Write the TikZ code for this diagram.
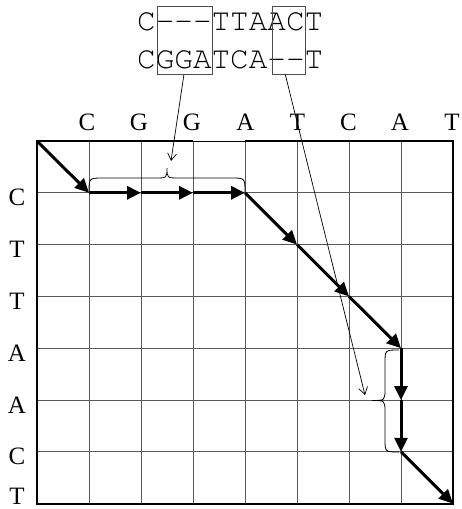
\documentclass[tikz,border=0pt]{standalone}
\usepackage{fontspec}
\setmainfont{Liberation Serif}
\newfontfamily\alignfont{TeX Gyre Cursor}
\usetikzlibrary{arrows.meta}
\begin{document}
\begin{tikzpicture}[x=1pt,y=-1pt,
  gridline/.style={draw=black!65,line width=0.9pt},
  border/.style={draw=black,line width=2pt,line join=miter},
  seqlabel/.style={font=\fontsize{25}{25}\selectfont,inner sep=0pt},
  alignrow/.style={font=\alignfont\fontsize{31}{31}\selectfont,inner sep=0pt,anchor=base west},
  colbox/.style={draw=black!70,line width=0.8pt,inner sep=0pt,anchor=north west},
  pathstep/.style={line width=3pt,-{Triangle[length=14pt,width=13pt]}},
  pointer/.style={line width=0.7pt,-{Straight Barb[length=7pt,width=9pt]}},
  bracestyle/.style={draw=black,line width=0.8pt}
]
\useasboundingbox (0,0) rectangle (461,509);

% grid points
\foreach \i in {0,...,8}{
  \foreach \j in {0,...,7}{
    \coordinate (p\i-\j) at ({37+52*\i},{141+51.8*\j});
  }
}

% grid lines
\foreach \i in {1,...,7}{\draw[gridline] (p\i-0) -- (p\i-7);}
\foreach \j in {1,...,6}{\draw[gridline] (p0-\j) -- (p8-\j);}

% border
\draw[border] (p3-0) -- (p0-0) -- (p0-7) -- (p8-7) -- (p8-0) -- (p4-0);
\draw[draw=black,line width=0.9pt] (p3-0) -- (p4-0);

% column labels
\node[seqlabel] (c1) at (87,122) {C};
\node[seqlabel] (c2) at (139,122) {G};
\node[seqlabel] (c3) at (192,122) {G};
\node[seqlabel] (c4) at (245.5,122) {A};
\node[seqlabel] (c5) at (297.5,122) {T};
\node[seqlabel] (c6) at (348.5,122) {C};
\node[seqlabel] (c7) at (400,122) {A};
\node[seqlabel] (c8) at (452,122) {T};

% row labels
\node[seqlabel] (r1) at (17,197) {C};
\node[seqlabel] (r2) at (17,249) {T};
\node[seqlabel] (r3) at (17,301) {T};
\node[seqlabel] (r4) at (17,353) {A};
\node[seqlabel] (r5) at (17,405) {A};
\node[seqlabel] (r6) at (17,456) {C};
\node[seqlabel] (r7) at (17,496) {T};

% alignment path
\draw[pathstep] (p0-0) -- (p1-1);
\draw[pathstep] (p1-1) -- (p2-1);
\draw[pathstep] (p2-1) -- (p3-1);
\draw[pathstep] (p3-1) -- (p4-1);
\draw[pathstep] (p4-1) -- (p5-2);
\draw[pathstep] (p5-2) -- (p6-3);
\draw[pathstep] (p6-3) -- (p7-4);
\draw[pathstep] (p7-4) -- (p7-5);
\draw[pathstep] (p7-5) -- (p7-6);
\draw[pathstep] (p7-6) -- (p8-7);

% braces
\coordinate (toptip) at (167,168);
\coordinate (sidetip) at (372,400.5);
\draw[bracestyle] (89,192) .. controls (89,178) .. (103,178) -- (155,178)
  .. controls (167,178) .. (toptip) .. controls (167,178) .. (179,178) -- (231,178)
  .. controls (245,178) .. (245,192);
\draw[bracestyle] (399,350) .. controls (385,350) .. (385,363) -- (385,389)
  .. controls (385,400.5) .. (sidetip) .. controls (385,400.5) .. (385,412) -- (385,439)
  .. controls (385,452) .. (399,452);

% alignment text
\node[alignrow] (a1) at (137,30) {C\hbox{-}\hbox{-}\hbox{-}TTAACT};
\node[alignrow] (a2) at (137,68) {CGGATCA\hbox{-}\hbox{-}T};
\node[colbox,minimum width=54.4pt,minimum height=68pt] (box1) at (157.3,6) {};
\node[colbox,minimum width=33.3pt,minimum height=68pt] (box2) at (271.7,6) {};

% pointers
\coordinate (ptr1) at (171,161);
\coordinate (ptr2) at (365,395);
\draw[pointer] ([xshift=-1pt]box1.south) -- (ptr1);
\draw[pointer] ([xshift=-3.4pt]box2.south) -- (ptr2);
\end{tikzpicture}
\end{document}
